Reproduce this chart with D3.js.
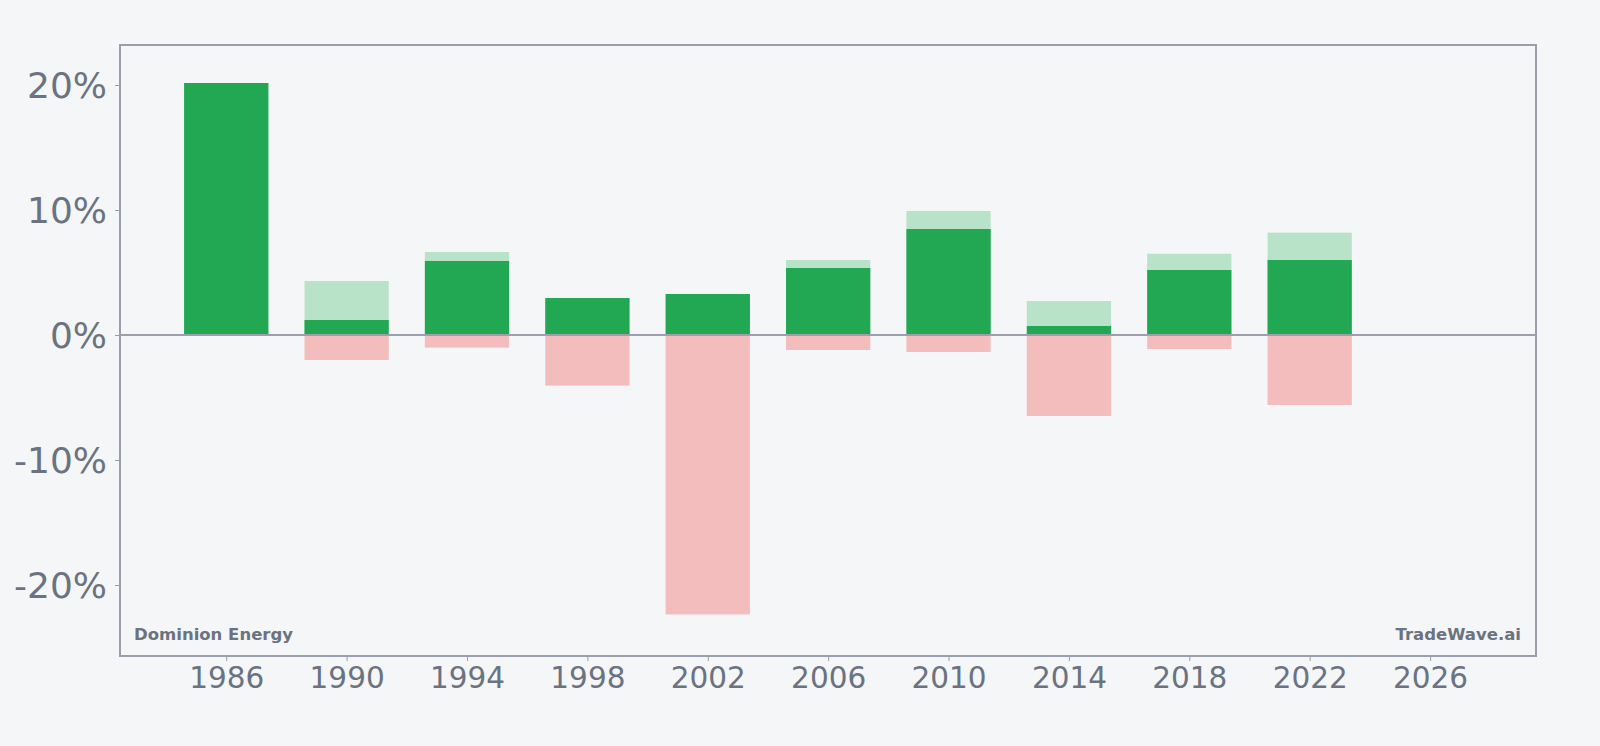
<!DOCTYPE html>
<html>
<head>
<meta charset="utf-8">
<script src="https://cdn.jsdelivr.net/npm/d3@7"></script>
<style>
  html, body { margin: 0; padding: 0; background: #f4f6f8; }
  svg { display: block; font-family: "DejaVu Sans", sans-serif; }
</style>
</head>
<body>
<svg id="chart" width="1600" height="746"></svg>
<script>
// Data (percent)
const years      = [1986, 1990, 1994, 1998, 2002, 2006, 2010, 2014, 2018, 2022];
const highValues = [20.16, 4.32, 6.64, 2.96, 3.28, 6.00, 9.92, 2.72, 6.50, 8.19];
const netValues  = [20.16, 1.20, 5.92, 2.96, 3.28, 5.36, 8.48, 0.72, 5.20, 6.00];
const lowValues  = [0.00, -2.00, -1.01, -4.05, -22.35, -1.20, -1.36, -6.48, -1.12, -5.60];
const xTickValues = [1986, 1990, 1994, 1998, 2002, 2006, 2010, 2014, 2018, 2022, 2026];
const yTickValues = [-20, -10, 0, 10, 20];
const leftLabel = "Dominion Energy";
const rightLabel = "TradeWave.ai";

const svg = d3.select("#chart");
const W = 1600, H = 746;
const m = { left: 120, right: 1536, top: 45, bottom: 656 };

svg.append("rect").attr("width", W).attr("height", H).attr("fill", "#f4f6f8");

const x = d3.scaleLinear().domain([1982.47, 2029.52]).range([m.left, m.right]);
const y = d3.scaleLinear().domain([-25.68, 23.2]).range([m.bottom, m.top]);
const barW = x(1982.47 + 2.8) - x(1982.47);

const rows = years.map((yr, i) => ({ yr, hi: highValues[i], net: netValues[i], lo: lowValues[i] }));

const g = svg.append("g");
// light green (high)
g.selectAll(".hi").data(rows).join("rect")
  .attr("x", d => x(d.yr) - barW / 2).attr("width", barW)
  .attr("y", d => y(d.hi)).attr("height", d => y(0) - y(d.hi))
  .attr("fill", "#b9e3c8");
// dark green (net)
g.selectAll(".net").data(rows).join("rect")
  .attr("x", d => x(d.yr) - barW / 2).attr("width", barW)
  .attr("y", d => y(d.net)).attr("height", d => y(0) - y(d.net))
  .attr("fill", "#22a853");
// pink (low)
g.selectAll(".lo").data(rows).join("rect")
  .attr("x", d => x(d.yr) - barW / 2).attr("width", barW)
  .attr("y", y(0)).attr("height", d => y(d.lo) - y(0))
  .attr("fill", "#f3bcbd");

// zero line
svg.append("line")
  .attr("x1", m.left).attr("x2", m.right)
  .attr("y1", y(0)).attr("y2", y(0))
  .attr("stroke", "#9d9fae").attr("stroke-width", 2);

// axes
const axisColor = "#9a9dab";
const textColor = "#6b7280";

const yAxis = svg.append("g").attr("transform", `translate(${m.left},0)`)
  .call(d3.axisLeft(y).tickValues(yTickValues).tickFormat(d => d + "%").tickSize(5).tickPadding(8));
yAxis.select(".domain").remove();
yAxis.selectAll(".tick line").attr("stroke", axisColor);
yAxis.selectAll(".tick text").attr("fill", textColor).attr("font-size", 36)
  .attr("font-family", "DejaVu Sans").attr("dy", "0.36em");

const xAxis = svg.append("g").attr("transform", `translate(0,${m.bottom})`)
  .call(d3.axisBottom(x).tickValues(xTickValues).tickFormat(d3.format("d")).tickSize(5).tickPadding(6));
xAxis.select(".domain").remove();
xAxis.selectAll(".tick line").attr("stroke", axisColor);
xAxis.selectAll(".tick text").attr("fill", textColor).attr("font-size", 29.5)
  .attr("font-family", "DejaVu Sans");

// frame
svg.append("rect")
  .attr("x", m.left).attr("y", m.top)
  .attr("width", m.right - m.left).attr("height", m.bottom - m.top)
  .attr("fill", "none").attr("stroke", axisColor).attr("stroke-width", 2);

// watermark labels
svg.append("text").attr("x", 134).attr("y", 640)
  .attr("font-size", 16.5).attr("font-weight", "bold").attr("fill", textColor)
  .text(leftLabel);
svg.append("text").attr("x", 1521).attr("y", 640).attr("text-anchor", "end")
  .attr("font-size", 16.5).attr("font-weight", "bold").attr("fill", textColor)
  .text(rightLabel);
</script>
</body>
</html>
